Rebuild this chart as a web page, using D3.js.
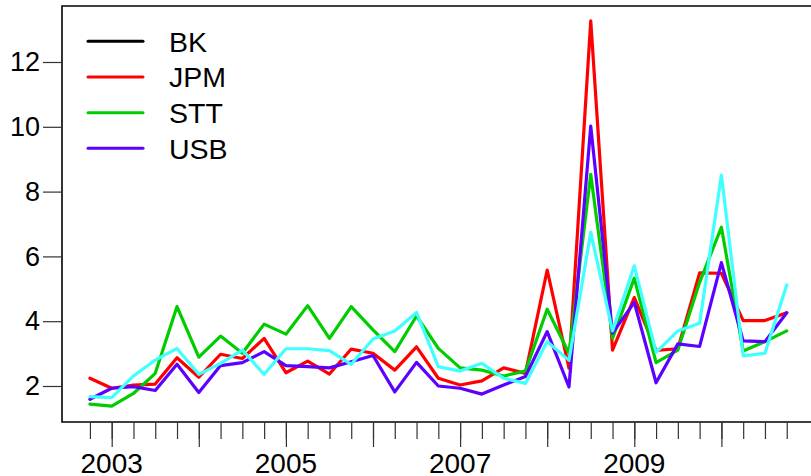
<!DOCTYPE html>
<html>
<head>
<meta charset="utf-8">
<script src="https://cdn.jsdelivr.net/npm/d3@7"></script>
<style>
  html, body { margin: 0; padding: 0; background: #fff; }
  svg { display: block; }
  text { font-family: "Liberation Sans", Arial, sans-serif; fill: #000; }
</style>
</head>
<body>
<svg id="chart" width="811" height="476"></svg>
<script>
// Quarterly time index
const times = [2002.75, 2003.00, 2003.25, 2003.50, 2003.75, 2004.00, 2004.25, 2004.50, 2004.75,
  2005.00, 2005.25, 2005.50, 2005.75, 2006.00, 2006.25, 2006.50, 2006.75,
  2007.00, 2007.25, 2007.50, 2007.75, 2008.00, 2008.25, 2008.50, 2008.75,
  2009.00, 2009.25, 2009.50, 2009.75, 2010.00, 2010.25, 2010.50, 2010.75];

// Series (drawn colours: red, green, blue, cyan)
const seriesRed = [2.24, 1.93, 2.03, 2.06, 2.87, 2.27, 2.98, 2.85, 3.47, 2.41, 2.77, 2.37, 3.14,
  3.01, 2.49, 3.21, 2.24, 2.03, 2.16, 2.56, 2.39, 5.58, 2.55, 13.27, 3.11, 4.73, 3.10, 3.15,
  5.49, 5.48, 4.02, 4.02, 4.26];
const seriesGreen = [1.44, 1.38, 1.77, 2.39, 4.45, 2.89, 3.54, 3.01, 3.91, 3.60, 4.48, 3.47, 4.45,
  3.73, 3.06, 4.16, 3.16, 2.56, 2.49, 2.31, 2.46, 4.37, 3.01, 8.53, 3.47, 5.33, 2.72, 3.11,
  5.20, 6.90, 3.08, 3.37, 3.70];
const seriesBlue = [1.59, 1.93, 1.98, 1.86, 2.67, 1.80, 2.63, 2.72, 3.06, 2.63, 2.60, 2.56, 2.75,
  2.94, 1.82, 2.73, 2.00, 1.93, 1.75, 2.03, 2.29, 3.68, 1.97, 10.02, 3.63, 4.58, 2.10, 3.30,
  3.22, 5.81, 3.39, 3.37, 4.26];
const seriesCyan = [1.67, 1.64, 2.31, 2.80, 3.16, 2.36, 2.70, 3.11, 2.36, 3.15, 3.15, 3.09, 2.67,
  3.45, 3.70, 4.27, 2.60, 2.46, 2.70, 2.24, 2.08, 3.37, 2.79, 6.74, 3.70, 5.71, 3.04, 3.70,
  3.94, 8.51, 2.93, 3.01, 5.12];

const legendLabels = ["BK", "JPM", "STT", "USB"];
const legendColors = ["#000000", "#ff0000", "#00cd00", "#5c00ff"];
const lineColors = ["#ff0000", "#00cd00", "#5c00ff", "#40ffff"];

const yTicks = [2, 4, 6, 8, 10, 12];
const yearTicks = [2003, 2004, 2005, 2006, 2007, 2008, 2009, 2010];
const yearLabels = [2003, 2005, 2007, 2009];

const svg = d3.select("#chart");

const x = d3.scaleLinear().domain([2003, 2009]).range([111.7, 634.3]);
const y = d3.scaleLinear().domain([2, 12]).range([386, 62]);

const boxLeft = 62, boxTop = 6, boxBottom = 422;

// lines
const allSeries = [seriesRed, seriesGreen, seriesBlue, seriesCyan];
const line = d3.line().x((d, i) => x(times[i])).y(d => y(d));
allSeries.forEach((s, k) => {
  svg.append("path")
    .attr("d", line(s))
    .attr("fill", "none")
    .attr("stroke", lineColors[k])
    .attr("stroke-width", 3.2)
    .attr("stroke-linejoin", "round")
    .attr("stroke-linecap", "round");
});

// box
svg.append("path")
  .attr("d", `M830,${boxTop}H${boxLeft}V${boxBottom}H830`)
  .attr("fill", "none")
  .attr("stroke", "#000")
  .attr("stroke-width", 1.6);

// y axis
const yAxis = d3.axisLeft(y).tickValues(yTicks).tickSize(19).tickPadding(3).tickFormat(d3.format("d"));
const gy = svg.append("g").attr("transform", `translate(${boxLeft},0)`).call(yAxis);
gy.select(".domain").remove();
gy.selectAll(".tick line").attr("stroke", "#333").attr("stroke-width", 1.2);
gy.selectAll(".tick text").attr("font-size", 27).attr("font-family", "Liberation Sans, Arial, sans-serif").attr("fill", "#000");

// x axis: quarter minor ticks
const gxMinor = svg.append("g").attr("transform", `translate(0,${boxBottom})`)
  .call(d3.axisBottom(x).tickValues(times).tickSize(17).tickFormat(""));
gxMinor.select(".domain").remove();
gxMinor.selectAll(".tick line").attr("stroke", "#333").attr("stroke-width", 1.2);

// x axis: year major ticks
const gxMajor = svg.append("g").attr("transform", `translate(0,${boxBottom})`)
  .call(d3.axisBottom(x).tickValues(yearTicks).tickSize(25).tickFormat(""));
gxMajor.select(".domain").remove();
gxMajor.selectAll(".tick line").attr("stroke", "#333").attr("stroke-width", 1.2);

// year labels
svg.append("g").selectAll("text").data(yearLabels).join("text")
  .attr("x", d => x(d))
  .attr("y", 473)
  .attr("text-anchor", "middle")
  .attr("font-size", 28)
  .text(d => d);

// legend
const legY = d3.scaleLinear().domain([0, 3]).range([41.3, 148.3]);
const leg = svg.append("g");
legendLabels.forEach((lab, i) => {
  leg.append("line")
    .attr("x1", 88).attr("x2", 143)
    .attr("y1", legY(i)).attr("y2", legY(i))
    .attr("stroke", legendColors[i]).attr("stroke-width", 3)
    .attr("stroke-linecap", "round");
  leg.append("text")
    .attr("x", 169).attr("y", legY(i))
    .attr("dy", "0.36em")
    .attr("font-size", 28.5)
    .text(lab);
});
</script>
</body>
</html>
